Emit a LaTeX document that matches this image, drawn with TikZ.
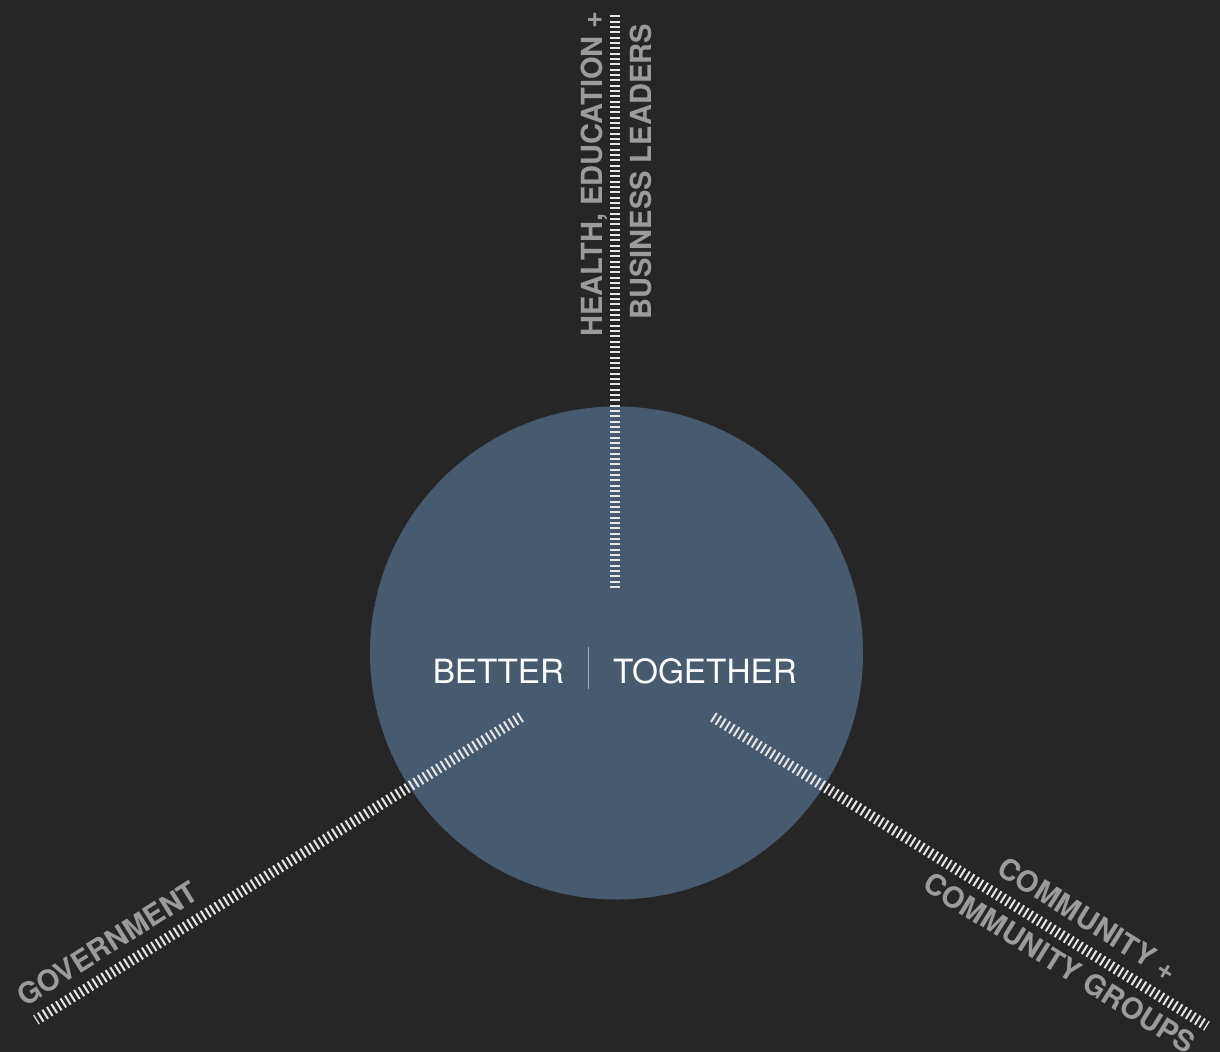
\documentclass[tikz,border=0pt]{standalone}
\usepackage{fontspec}
\setmainfont{TeX Gyre Heros}
\definecolor{bg}{HTML}{262626}
\definecolor{hub}{HTML}{475A6E}
\definecolor{tickc}{HTML}{E6E6E6}
\definecolor{labelc}{HTML}{9B9B9B}
\definecolor{rulec}{HTML}{A3AEBA}
\begin{document}
\begin{tikzpicture}[x=0.75pt,y=-0.75pt,
  spoke/.style={draw=tickc, line width=8pt, dash pattern=on 1.5pt off 2.5pt},
  group/.style={text=labelc, font=\fontsize{21.8}{24}\selectfont\bfseries, inner sep=0pt, anchor=base},
  motto/.style={text=white, font=\fontsize{25}{30}\selectfont, inner sep=0pt, anchor=base}]
% background and page size
\fill[bg] (0,0) rectangle (1220,1052);
\useasboundingbox (0,0) rectangle (1220,1052);

% central disc
\node[circle, fill=hub, minimum size=369.75pt, inner sep=0pt] (hub) at (616.5,653) {};

% spoke end points
\coordinate (n1) at (615,14);
\coordinate (n2) at (615,588);
\coordinate (w1) at (521,717);
\coordinate (w2) at (36,1020);
\coordinate (e1) at (713,717);
\coordinate (e2) at (1207,1026);

% hatched spokes
\draw[spoke] (n2) -- (n1);
\draw[spoke] (w1) -- (w2);
\draw[spoke] (e1) -- (e2);

% spoke labels
\node[group, rotate=90] (health) at (602,174) {HEALTH, EDUCATION +};
\node[group, rotate=90] (business) at (651,172) {BUSINESS LEADERS};
\node[group, rotate=32] (gov) at (113,953) {GOVERNMENT};
\node[group, rotate=-32] (comm) at (1082,928) {COMMUNITY +};
\node[group, rotate=-32] (groups) at (1054,972) {COMMUNITY GROUPS};

% motto
\node[motto] (better) at (498.5,683) {BETTER};
\node[motto] (together) at (705,683) {TOGETHER};
\coordinate (r1) at (588,647);
\coordinate (r2) at (588,689);
\draw[rulec, line width=0.75pt] (r1) -- (r2);
\end{tikzpicture}
\end{document}
